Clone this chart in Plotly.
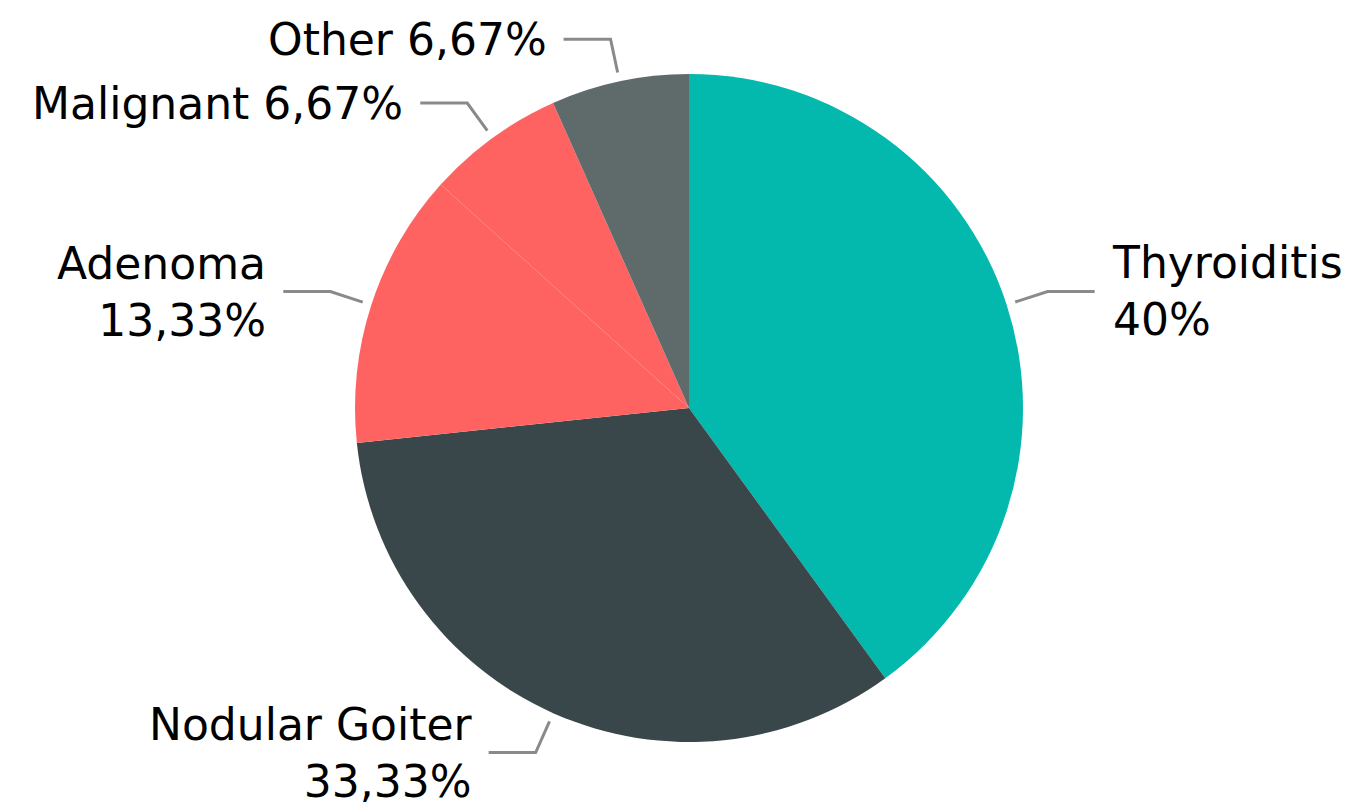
import math
import plotly.graph_objects as go

labels = ["Thyroiditis", "Nodular Goiter", "Adenoma", "Malignant", "Other"]
values = [40.0, 33.33, 13.33, 6.67, 6.67]
value_text = ["40%", "33,33%", "13,33%", "6,67%", "6,67%"]
two_line = [True, True, True, False, False]
colors = ["#03b8ac", "#3a474a", "#ff6361", "#ff6361", "#5f6a6b"]

W, H = 1368, 809
CX, CY, R = 689, 408, 334  # pie center / radius in pixels

fig = go.Figure()
fig.add_trace(go.Pie(
    labels=labels, values=values, sort=False, direction="clockwise", rotation=0,
    marker=dict(colors=colors, line=dict(width=0)),
    textinfo="none", hoverinfo="label+percent", showlegend=False,
    domain=dict(x=[(CX - R) / W, (CX + R) / W], y=[(H - CY - R) / H, (H - CY + R) / H]),
))

def px2paper(x, y):
    return x / W, (H - y) / H

shapes, annots = [], []
total = sum(values)
cum = 0.0
for lab, v, vt, tl in zip(labels, values, value_text, two_line):
    mid = (cum + v / 2) / total * 2 * math.pi
    cum += v
    s, c = math.sin(mid), math.cos(mid)
    x1, y1 = CX + R * 1.027 * s, CY - R * 1.027 * c
    x2, y2 = CX + R * 1.129 * s, CY - R * 1.129 * c
    side = 1 if s >= 0 else -1
    x3 = x2 + side * 47
    pts = [px2paper(x1, y1), px2paper(x2, y2), px2paper(x3, y2)]
    path = "M {} {} L {} {} L {} {}".format(pts[0][0], pts[0][1], pts[1][0], pts[1][1], pts[2][0], pts[2][1])
    shapes.append(dict(type="path", xref="paper", yref="paper", path=path,
                       line=dict(color="#8a8a8a", width=3)))
    tx, ty = px2paper(x3 + side * 15, y2)
    text = f"{lab}<br>{vt}" if tl else f"{lab} {vt}"
    annots.append(dict(x=tx, y=ty, xref="paper", yref="paper", text=text, showarrow=False,
                       xanchor="left" if side > 0 else "right", yanchor="middle",
                       align="left" if side > 0 else "right",
                       font=dict(family="DejaVu Sans", size=44, color="#000000")))

fig.update_layout(
    width=W, height=H, margin=dict(l=0, r=0, t=0, b=0),
    paper_bgcolor="white", plot_bgcolor="white",
    shapes=shapes, annotations=annots,
)
fig.write_html("out.html", config={"displayModeBar": False},
               post_script="document.body.style.margin='0';document.body.style.overflow='hidden';")
